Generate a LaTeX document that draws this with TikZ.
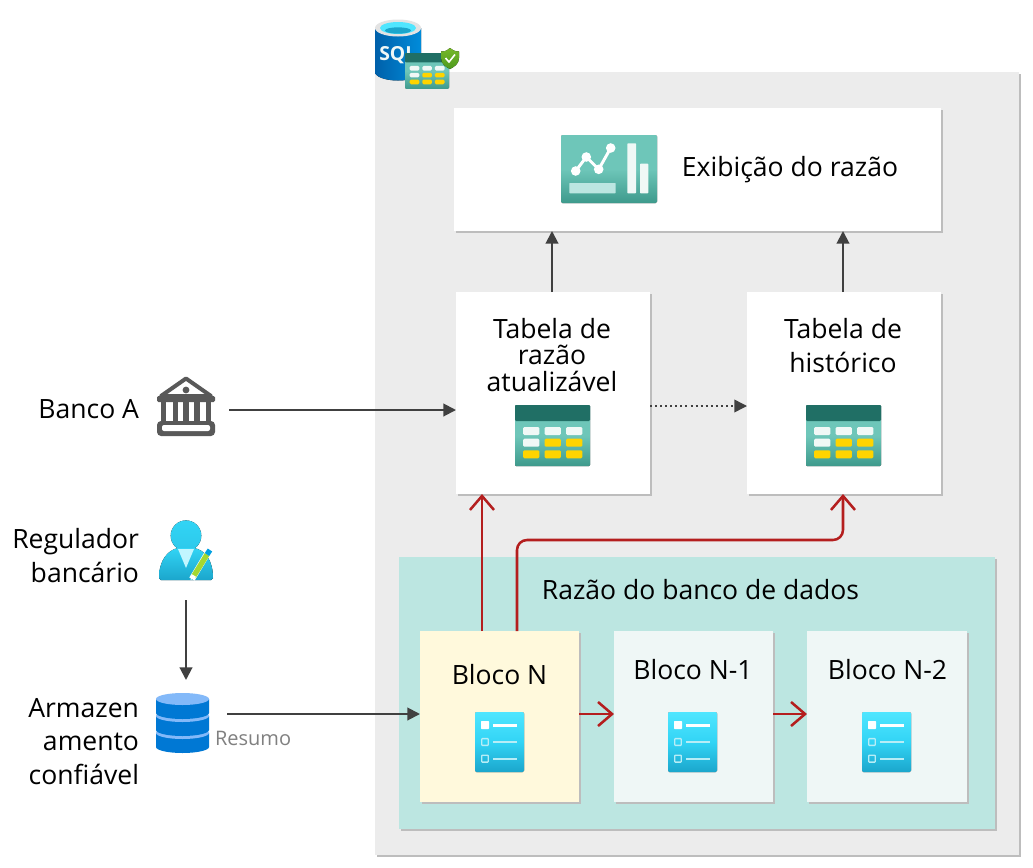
\documentclass[tikz,border=0pt]{standalone}
\usepackage{fontspec}
\setmainfont{Open Sans}
\usetikzlibrary{arrows.meta,calc}
\definecolor{outerbg}{HTML}{ECECEC}
\definecolor{edgegray}{HTML}{BDBDBD}
\definecolor{mint}{HTML}{BCE6E1}
\definecolor{paleyellow}{HTML}{FFF9DC}
\definecolor{palemint}{HTML}{EFF7F6}
\definecolor{arrowdark}{HTML}{404040}
\definecolor{arrowred}{HTML}{B41E1E}
\definecolor{tealdark}{HTML}{206F65}
\definecolor{teal}{HTML}{6EC6B9}
\definecolor{tealdeep}{HTML}{3E9A8C}
\definecolor{cellwhite}{HTML}{F0F8F6}
\definecolor{cellyellow}{HTML}{FFD400}
\definecolor{cyanhi}{HTML}{50E6FF}
\definecolor{cyanmid}{HTML}{32D4F5}
\definecolor{cyanlo}{HTML}{1BA6CC}
\definecolor{dbblue}{HTML}{0078D4}
\definecolor{dblight}{HTML}{83B9F9}
\definecolor{bankgray}{HTML}{595959}
\definecolor{shieldgreen}{HTML}{76B82A}
\definecolor{shielddark}{HTML}{4E9A1E}
\definecolor{pencilgreen}{HTML}{A4D831}
\tikzset{
  panel/.style 2 args={rectangle,inner sep=0pt,outer sep=0pt,minimum width=#1*0.75pt,minimum height=#2*0.75pt,
    preaction={fill=edgegray,transform canvas={xshift=1.2pt,yshift=-1.2pt}}},
  ghost/.style 2 args={rectangle,inner sep=0pt,outer sep=0pt,minimum width=#1*0.75pt,minimum height=#2*0.75pt},
  lbl/.style={inner sep=0pt,outer sep=0pt,font=\fontsize{19.9}{24.9}\selectfont,text=black},
  flow/.style={draw=arrowdark,line width=1.5pt,-{Triangle[length=9.5pt,width=9.5pt]}},
  dotflow/.style={draw=arrowdark,line width=1.1pt,dash pattern=on 1.5pt off 2.3pt,-{Triangle[length=9.5pt,width=9.5pt]}},
  redflow/.style={draw=arrowred,line width=1.9pt,-{Straight Barb[length=10.5pt,width=18pt,line width=1.9pt]}},
  pics/tableicon/.style={code={
    \fill[rounded corners=0.8pt,top color=teal,bottom color=tealdeep,middle color=teal] (0,0) rectangle (75,61);
    \fill[tealdark,rounded corners=0.8pt] (0,0) rectangle (75,16);
    \foreach \cx/\cy/\cc in {8/22/cellwhite,29.5/22/cellwhite,51/22/cellwhite,8/33.7/cellwhite,29.5/33.7/cellyellow,51/33.7/cellyellow,8/45.3/cellyellow,29.5/45.3/cellyellow,51/45.3/cellyellow}
      \fill[\cc,rounded corners=1pt] (\cx,\cy) rectangle ++(16.4,8);
  }},
  pics/docicon/.style={code={
    \fill[rounded corners=1pt,top color=cyanhi,bottom color=cyanlo,middle color=cyanmid] (0,0) rectangle (49,60);
    \fill[white,rounded corners=0.5pt] (6,9) rectangle (14,17);
    \fill[white] (17.7,12) rectangle (42,14.5);
    \foreach \ly in {30,46.7}{
      \draw[cellwhite!70!cyanmid,line width=1pt,rounded corners=0.5pt] (6.7,\ly-3.4) rectangle (13.3,\ly+3.4);
      \fill[cellwhite!70!cyanmid] (17.7,\ly-1.2) rectangle (42,\ly+1.4);
    }
  }},
  pics/charticon/.style={code={
    \fill[rounded corners=1pt,top color=teal,bottom color=tealdeep,middle color=teal] (0,0) rectangle (96,68);
    \draw[white,line width=2.2pt] (14.7,36) -- (25.3,22) -- (37.7,34.3) -- (49.7,13);
    \foreach \px/\py in {14.7/36,25.3/22,37.7/34.3,49.7/13} \fill[white] (\px,\py) circle (4.8);
    \fill[mint,rounded corners=0.5pt] (8.3,48) rectangle (54.7,58.3);
    \fill[cellwhite,rounded corners=0.5pt] (66.3,8.3) rectangle (75,58.3);
    \fill[cellwhite,rounded corners=0.5pt] (79,28.7) rectangle (87.3,58.3);
  }}
}
\begin{document}
\begin{tikzpicture}[x=0.75pt,y=-0.75pt]
\useasboundingbox[fill=white] (0,0) rectangle (1033,868);
% containers
\node[panel={644}{783},fill=outerbg] (server) at (697,463.5) {};
\node[panel={487}{123},fill=white] (view) at (697.5,169.5) {};
\node[panel={194}{202},fill=white] (tupd) at (553,393) {};
\node[panel={194}{202},fill=white] (thist) at (844,393) {};
\node[panel={596}{272},fill=mint] (ledger) at (697,693) {};
\node[panel={159}{171},fill=paleyellow] (blockn) at (499.5,716.5) {};
\node[panel={159}{171},fill=palemint] (blocka) at (693.5,716.5) {};
\node[panel={160}{171},fill=palemint] (blockb) at (887,716.5) {};
% invisible anchors for icons
\node[ghost={58}{60}] (bank) at (186,406) {};
\node[ghost={54}{60}] (reg) at (186,550) {};
\node[ghost={53}{60}] (store) at (182.5,723) {};
% icons
\pic at (561,135) {charticon};
\pic at (515,405) {tableicon};
\pic at (806,405) {tableicon};
\pic at (475,712) {docicon};
\pic at (668,712) {docicon};
\pic at (862,712) {docicon};
% SQL icon
\fill[left color=dbblue!80!black,right color=dbblue!85!cyan] (375,28) -- (375,72) arc[start angle=180,end angle=0,x radius=23,y radius=8.5] -- (421,28) -- cycle;
\fill[gray!22] (398,28) ellipse[x radius=23,y radius=8.5];
\fill[cyanhi] (398,28) ellipse[x radius=18,y radius=6];
\fill[cyanlo] (398,30.5) ellipse[x radius=13,y radius=3.2];
\node[inner sep=0pt,text=cellwhite,font=\fontsize{14.5}{16}\bfseries\selectfont,anchor=west] (sqlword) at (379,55) {SQL};
\begin{scope}[shift={(405,53)},x=0.44pt,y=-0.44pt]
\pic at (0,0) {tableicon};
\end{scope}
\fill[top color=shieldgreen,bottom color=shielddark] (441,51.5) .. controls (446,51.5) and (448,50) .. (450,48) .. controls (452,50) and (455,51.5) .. (459,51.5) -- (459,58) .. controls (459,64) and (454,67) .. (450,69) .. controls (446,67) and (441,64) .. (441,58) -- cycle;
\draw[white,line width=1.2pt] (445.5,58) -- (449,62) -- (455,54.5);
% bank icon
\begin{scope}[bankgray]
\draw[line width=3pt,line join=round] (161,396) -- (186,378.5) -- (211,396) -- cycle;
\fill (186,390) circle (3.4);
\fill[rounded corners=1pt] (157,396) rectangle (215,402);
\foreach \cx in {160.5,172.5,183.3,194.3,205.5} \fill (\cx,402) rectangle ++(5.5,22);
\fill[rounded corners=3pt] (157,421) rectangle (215,436);
\fill[white,rounded corners=1.5pt] (162,425) rectangle (210,431);
\end{scope}
% regulator icon
\fill[top color=cyanmid,bottom color=cyanmid!75!cyanlo] (186,535.7) circle (15.3);
\fill[top color=cyanmid,middle color=cyanmid,bottom color=cyanlo] (159,578) .. controls (159,560) and (168,550) .. (178,548) -- (194,548) .. controls (205,550) and (213,560) .. (213,578) -- (211,580) -- (161,580) -- cycle;
\fill[cyanhi!35!white] (178,549) -- (194,549) -- (186,568) -- cycle;
\draw[line width=4.6pt,color=white] (192,579) -- (207,554);
\draw[line width=4pt,color=pencilgreen] (193.5,576.5) -- (207,554.5);
\draw[line width=4pt,color=dbblue!70!cyan] (207,554.5) -- (210,550);
\fill[white] (190.5,580) -- (191.5,574) -- (196.5,577) -- cycle;
% data store icon
\fill[dbblue] (156,733) -- (156,747) arc[start angle=180,end angle=0,x radius=26.5,y radius=6] -- (209,733) -- cycle;
\fill[dblight] (182.5,733) ellipse[x radius=26.5,y radius=6];
\fill[dbblue] (156,716) -- (156,730) arc[start angle=180,end angle=0,x radius=26.5,y radius=6] -- (209,716) -- cycle;
\fill[dblight] (182.5,716) ellipse[x radius=26.5,y radius=6];
\fill[dbblue] (156,699) -- (156,713) arc[start angle=180,end angle=0,x radius=26.5,y radius=6] -- (209,699) -- cycle;
\fill[dblight] (182.5,699) ellipse[x radius=26.5,y radius=6];
% labels
\node[lbl] (viewlbl) at (790,170) {Exibição do razão};
\node[lbl,align=center,font=\fontsize{19.9}{19.6}\selectfont] (tupdlbl) at (552,355) {Tabela de\\razão\\atualizável};
\node[lbl,align=center] (thistlbl) at (843,345.5) {Tabela de\\histórico};
\node[lbl,anchor=east] (banklbl) at (139,409) {Banco A};
\node[lbl,anchor=east,align=right] (reglbl) at (139,555.5) {Regulador\\bancário};
\node[lbl,anchor=east,align=right] (storelbl) at (139,741.5) {Armazen\\amento\\confiável};
\node[lbl] (ledgerlbl) at (700.5,590) {Razão do banco de dados};
\node[lbl] (nlbl) at (499.5,675) {Bloco N};
\node[lbl] (albl) at (693,670) {Bloco N-1};
\node[lbl] (blbl) at (887.5,670) {Bloco N-2};
% connectors
\draw[flow] (tupd.north -| 552,0) -- (view.south -| 552,0);
\draw[flow] (thist.north -| 843,0) -- (view.south -| 843,0);
\draw[flow] ([xshift=10.5pt,yshift=-3pt]bank.east) -- (tupd.west |- 0,410);
\draw[dotflow] (tupd.east |- 0,406) -- (thist.west |- 0,406);
\draw[flow] (reg.south |- 0,600) -- (reg.south |- 0,680);
\draw[flow] ([xshift=13.5pt,yshift=6.75pt]store.east) -- (blockn.west |- 0,714);
\node[inner sep=0pt,outer sep=0pt,anchor=west,text=gray,font=\fontsize{15}{16}\selectfont] (digest) at (215,738.5) {Resumo};
\draw[redflow] (blockn.north -| 482,0) -- (tupd.south -| 482,0);
\draw[redflow,rounded corners=7.5pt] (blockn.north -| 517,0) -- (517,540) -- (843,540) -- (thist.south -| 843,0);
\draw[redflow] (blockn.east |- 0,714) -- (blocka.west |- 0,714);
\draw[redflow] (blocka.east |- 0,714) -- (blockb.west |- 0,714);
\end{tikzpicture}
\end{document}
